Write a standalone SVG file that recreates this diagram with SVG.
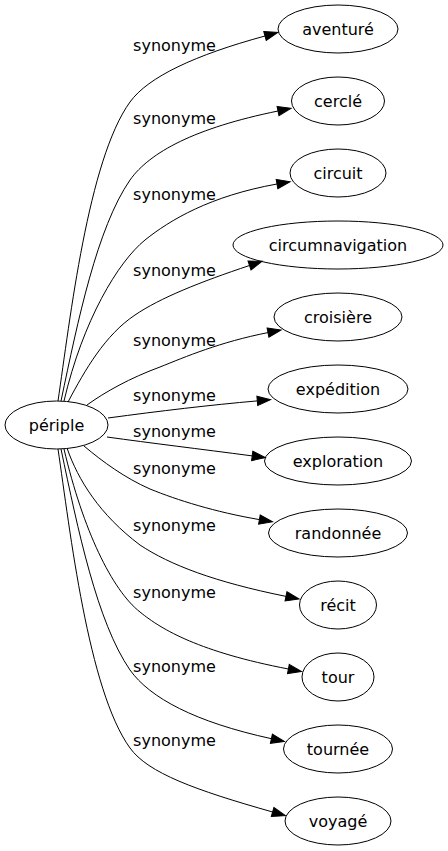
<svg xmlns="http://www.w3.org/2000/svg" width="448" height="851" viewBox="0 0 448 851">
<defs>
<style>
.node ellipse{fill:none;stroke:#000;stroke-width:1}
.node text{font-family:"DejaVu Sans",sans-serif;font-size:16px;fill:#000;text-anchor:middle}
.edges path{fill:none;stroke:#000;stroke-width:1;marker-end:url(#arr)}
.lbl{font-family:"DejaVu Sans",sans-serif;font-size:16px;fill:#000;text-anchor:middle}
</style>
<marker id="arr" markerUnits="userSpaceOnUse" markerWidth="16" markerHeight="12" refX="0" refY="0" viewBox="0 -6 16 12" orient="auto" overflow="visible">
<path d="M0,-4.7 L13.3,0 L0,4.7 Z" fill="#000" stroke="#000" stroke-width="1"/>
</marker>
</defs>
<rect width="448" height="851" fill="#fff"/>
<g id="connectors" class="edges">
<path d="M58,401 C70,320 88,160 130,102 C148,77 195,55 265,36"/>
<path d="M61,401 C78,320 97,228 130,180 C150,152 195,128 278,111"/>
<path d="M64,401 C83,320 118,262 145,240 C170,220 210,196 277,184"/>
<path d="M68,402 C85,370 105,335 135,315 C160,298 200,282 249.5,265.5"/>
<path d="M87,405 C105,392 130,378 160,367 C185,357 220,342 268,332.6"/>
<path d="M108,418 C160,411 210,405 257.3,400.9"/>
<path d="M107,437 C150,443 200,449 252.2,455.9"/>
<path d="M84,446 C103,462 125,478 150,489 C177,500 215,512 259.4,519.6"/>
<path d="M67,448 C78,480 100,515 140,545 C170,565 215,582 286,596.4"/>
<path d="M64,449 C83,530 112,590 140,612 C162,630 200,652 288.4,669"/>
<path d="M61,449 C78,530 97,622 130,670 C150,698 195,722 271.4,738.7"/>
<path d="M58,449 C70,530 88,690 130,748 C148,773 195,790 272.6,812"/>
</g>
<g id="edge-labels">
<text class="lbl" x="174.5" y="51">synonyme</text>
<text class="lbl" x="174.5" y="124">synonyme</text>
<text class="lbl" x="174.5" y="200">synonyme</text>
<text class="lbl" x="174.5" y="276">synonyme</text>
<text class="lbl" x="174.5" y="346">synonyme</text>
<text class="lbl" x="174.5" y="401">synonyme</text>
<text class="lbl" x="174.5" y="437">synonyme</text>
<text class="lbl" x="174.5" y="474">synonyme</text>
<text class="lbl" x="174.5" y="531">synonyme</text>
<text class="lbl" x="174.5" y="598">synonyme</text>
<text class="lbl" x="174.5" y="672">synonyme</text>
<text class="lbl" x="174.5" y="746">synonyme</text>
</g>
<g id="periple" class="node"><ellipse cx="56.5" cy="425" rx="51.5" ry="24"/><text x="56.5" y="430.5">périple</text></g>
<g id="aventure" class="node"><ellipse cx="338" cy="29" rx="60" ry="24"/><text x="338" y="34.5">aventuré</text></g>
<g id="cercle" class="node"><ellipse cx="338" cy="101" rx="46.5" ry="24"/><text x="338" y="106.5">cerclé</text></g>
<g id="circuit" class="node"><ellipse cx="338" cy="173" rx="48" ry="24"/><text x="338" y="178.5">circuit</text></g>
<g id="circumnavigation" class="node"><ellipse cx="338" cy="245" rx="105" ry="24"/><text x="338" y="250.5">circumnavigation</text></g>
<g id="croisiere" class="node"><ellipse cx="338" cy="317" rx="64" ry="24"/><text x="338" y="322.5">croisière</text></g>
<g id="expedition" class="node"><ellipse cx="338" cy="389" rx="70" ry="24"/><text x="338" y="394.5">expédition</text></g>
<g id="exploration" class="node"><ellipse cx="338" cy="461" rx="73.5" ry="24"/><text x="338" y="466.5">exploration</text></g>
<g id="randonnee" class="node"><ellipse cx="338" cy="533" rx="69.5" ry="24"/><text x="338" y="538.5">randonnée</text></g>
<g id="recit" class="node"><ellipse cx="338" cy="605" rx="38.5" ry="24"/><text x="338" y="610.5">récit</text></g>
<g id="tour" class="node"><ellipse cx="338" cy="677" rx="36" ry="24"/><text x="338" y="682.5">tour</text></g>
<g id="tournee" class="node"><ellipse cx="338" cy="749" rx="54.5" ry="24"/><text x="338" y="754.5">tournée</text></g>
<g id="voyage" class="node"><ellipse cx="338" cy="821" rx="53" ry="24"/><text x="338" y="826.5">voyagé</text></g>
</svg>
